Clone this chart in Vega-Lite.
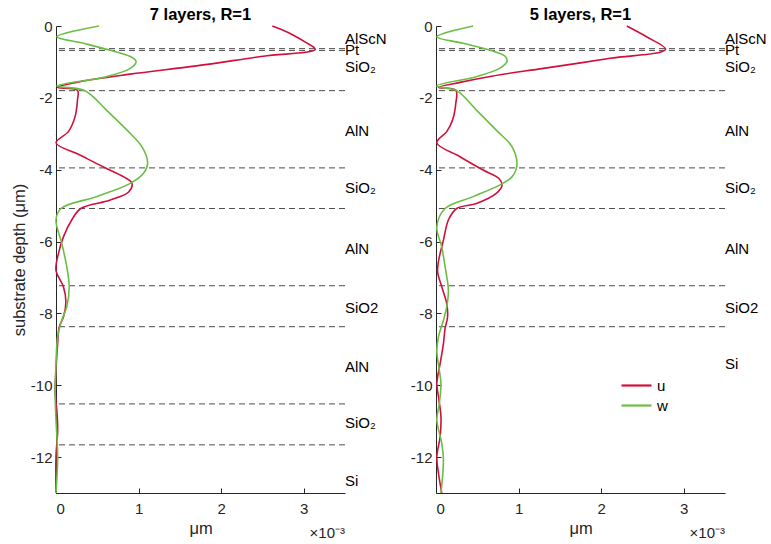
{
  "$schema": "https://vega.github.io/schema/vega-lite/v6.json",
  "padding": {"left": 11, "top": 6, "right": 0, "bottom": 0},
  "bounds": "flush",
  "spacing": 91,
  "datasets": {
    "curves": [
      {"panel": "7", "s": "u", "depth": 0, "disp": 2.62},
      {"panel": "7", "s": "u", "depth": -0.1, "disp": 2.73},
      {"panel": "7", "s": "u", "depth": -0.25, "disp": 2.87},
      {"panel": "7", "s": "u", "depth": -0.45, "disp": 3.02},
      {"panel": "7", "s": "u", "depth": -0.65, "disp": 3.14},
      {"panel": "7", "s": "u", "depth": -0.84, "disp": 2.51},
      {"panel": "7", "s": "u", "depth": -1.11, "disp": 1.70},
      {"panel": "7", "s": "u", "depth": -1.34, "disp": 0.90},
      {"panel": "7", "s": "u", "depth": -1.55, "disp": 0.29},
      {"panel": "7", "s": "u", "depth": -1.71, "disp": 0.02},
      {"panel": "7", "s": "u", "depth": -1.79, "disp": 0.26},
      {"panel": "7", "s": "u", "depth": -2.06, "disp": 0.26},
      {"panel": "7", "s": "u", "depth": -2.53, "disp": 0.23},
      {"panel": "7", "s": "u", "depth": -2.94, "disp": 0.15},
      {"panel": "7", "s": "u", "depth": -3.25, "disp": 0.0},
      {"panel": "7", "s": "u", "depth": -3.59, "disp": 0.29},
      {"panel": "7", "s": "u", "depth": -3.92, "disp": 0.57},
      {"panel": "7", "s": "u", "depth": -4.2, "disp": 0.82},
      {"panel": "7", "s": "u", "depth": -4.38, "disp": 0.92},
      {"panel": "7", "s": "u", "depth": -4.62, "disp": 0.88},
      {"panel": "7", "s": "u", "depth": -4.85, "disp": 0.65},
      {"panel": "7", "s": "u", "depth": -5.08, "disp": 0.30},
      {"panel": "7", "s": "u", "depth": -5.4, "disp": 0.19},
      {"panel": "7", "s": "u", "depth": -5.87, "disp": 0.09},
      {"panel": "7", "s": "u", "depth": -6.33, "disp": 0.03},
      {"panel": "7", "s": "u", "depth": -6.8, "disp": 0.0},
      {"panel": "7", "s": "u", "depth": -7.26, "disp": 0.09},
      {"panel": "7", "s": "u", "depth": -7.68, "disp": 0.12},
      {"panel": "7", "s": "u", "depth": -8.1, "disp": 0.09},
      {"panel": "7", "s": "u", "depth": -8.37, "disp": 0.04},
      {"panel": "7", "s": "u", "depth": -8.84, "disp": 0.02},
      {"panel": "7", "s": "u", "depth": -9.58, "disp": 0.0},
      {"panel": "7", "s": "u", "depth": -10.22, "disp": -0.01},
      {"panel": "7", "s": "u", "depth": -10.69, "disp": 0.01},
      {"panel": "7", "s": "u", "depth": -11.25, "disp": 0.02},
      {"panel": "7", "s": "u", "depth": -11.99, "disp": 0.0},
      {"panel": "7", "s": "u", "depth": -13, "disp": 0.0},
      {"panel": "7", "s": "w", "depth": 0, "disp": 0.52},
      {"panel": "7", "s": "w", "depth": -0.3, "disp": 0.01},
      {"panel": "7", "s": "w", "depth": -0.48, "disp": 0.33},
      {"panel": "7", "s": "w", "depth": -0.67, "disp": 0.65},
      {"panel": "7", "s": "w", "depth": -0.85, "disp": 0.90},
      {"panel": "7", "s": "w", "depth": -0.99, "disp": 0.97},
      {"panel": "7", "s": "w", "depth": -1.18, "disp": 0.90},
      {"panel": "7", "s": "w", "depth": -1.41, "disp": 0.61},
      {"panel": "7", "s": "w", "depth": -1.67, "disp": 0.01},
      {"panel": "7", "s": "w", "depth": -1.8, "disp": 0.35},
      {"panel": "7", "s": "w", "depth": -2.34, "disp": 0.61},
      {"panel": "7", "s": "w", "depth": -2.9, "disp": 0.86},
      {"panel": "7", "s": "w", "depth": -3.36, "disp": 1.04},
      {"panel": "7", "s": "w", "depth": -3.81, "disp": 1.11},
      {"panel": "7", "s": "w", "depth": -4.1, "disp": 1.06},
      {"panel": "7", "s": "w", "depth": -4.38, "disp": 0.90},
      {"panel": "7", "s": "w", "depth": -4.75, "disp": 0.49},
      {"panel": "7", "s": "w", "depth": -5.08, "disp": 0.06},
      {"panel": "7", "s": "w", "depth": -5.4, "disp": 0.0},
      {"panel": "7", "s": "w", "depth": -6.05, "disp": 0.07},
      {"panel": "7", "s": "w", "depth": -6.7, "disp": 0.13},
      {"panel": "7", "s": "w", "depth": -7.26, "disp": 0.16},
      {"panel": "7", "s": "w", "depth": -7.82, "disp": 0.13},
      {"panel": "7", "s": "w", "depth": -8.19, "disp": 0.07},
      {"panel": "7", "s": "w", "depth": -8.65, "disp": 0.02},
      {"panel": "7", "s": "w", "depth": -9.4, "disp": 0.0},
      {"panel": "7", "s": "w", "depth": -10.32, "disp": -0.01},
      {"panel": "7", "s": "w", "depth": -10.97, "disp": 0.0},
      {"panel": "7", "s": "w", "depth": -11.99, "disp": 0.02},
      {"panel": "7", "s": "w", "depth": -13, "disp": 0.0},
      {"panel": "5", "s": "u", "depth": 0, "disp": 2.31},
      {"panel": "5", "s": "u", "depth": -0.3, "disp": 2.55},
      {"panel": "5", "s": "u", "depth": -0.65, "disp": 2.78},
      {"panel": "5", "s": "u", "depth": -0.9, "disp": 2.11},
      {"panel": "5", "s": "u", "depth": -1.18, "disp": 1.30},
      {"panel": "5", "s": "u", "depth": -1.39, "disp": 0.69},
      {"panel": "5", "s": "u", "depth": -1.57, "disp": 0.29},
      {"panel": "5", "s": "u", "depth": -1.71, "disp": 0.03},
      {"panel": "5", "s": "u", "depth": -1.79, "disp": 0.24},
      {"panel": "5", "s": "u", "depth": -2.15, "disp": 0.24},
      {"panel": "5", "s": "u", "depth": -2.62, "disp": 0.20},
      {"panel": "5", "s": "u", "depth": -2.94, "disp": 0.13},
      {"panel": "5", "s": "u", "depth": -3.25, "disp": 0.01},
      {"panel": "5", "s": "u", "depth": -3.64, "disp": 0.29},
      {"panel": "5", "s": "u", "depth": -4.01, "disp": 0.57},
      {"panel": "5", "s": "u", "depth": -4.24, "disp": 0.76},
      {"panel": "5", "s": "u", "depth": -4.43, "disp": 0.80},
      {"panel": "5", "s": "u", "depth": -4.66, "disp": 0.73},
      {"panel": "5", "s": "u", "depth": -4.94, "disp": 0.49},
      {"panel": "5", "s": "u", "depth": -5.08, "disp": 0.25},
      {"panel": "5", "s": "u", "depth": -5.4, "disp": 0.15},
      {"panel": "5", "s": "u", "depth": -5.96, "disp": 0.09},
      {"panel": "5", "s": "u", "depth": -6.55, "disp": 0.03},
      {"panel": "5", "s": "u", "depth": -6.85, "disp": 0.02},
      {"panel": "5", "s": "u", "depth": -7.26, "disp": 0.07},
      {"panel": "5", "s": "u", "depth": -7.73, "disp": 0.13},
      {"panel": "5", "s": "u", "depth": -8.1, "disp": 0.14},
      {"panel": "5", "s": "u", "depth": -8.42, "disp": 0.11},
      {"panel": "5", "s": "u", "depth": -8.84, "disp": 0.09},
      {"panel": "5", "s": "u", "depth": -9.4, "disp": 0.05},
      {"panel": "5", "s": "u", "depth": -9.95, "disp": 0.01},
      {"panel": "5", "s": "u", "depth": -10.32, "disp": 0.03},
      {"panel": "5", "s": "u", "depth": -10.88, "disp": 0.06},
      {"panel": "5", "s": "u", "depth": -11.43, "disp": 0.05},
      {"panel": "5", "s": "u", "depth": -11.99, "disp": 0.01},
      {"panel": "5", "s": "u", "depth": -12.45, "disp": 0.03},
      {"panel": "5", "s": "u", "depth": -13, "disp": 0.07},
      {"panel": "5", "s": "w", "depth": 0, "disp": 0.45},
      {"panel": "5", "s": "w", "depth": -0.3, "disp": 0.01},
      {"panel": "5", "s": "w", "depth": -0.48, "disp": 0.33},
      {"panel": "5", "s": "w", "depth": -0.67, "disp": 0.65},
      {"panel": "5", "s": "w", "depth": -0.85, "disp": 0.84},
      {"panel": "5", "s": "w", "depth": -0.99, "disp": 0.86},
      {"panel": "5", "s": "w", "depth": -1.18, "disp": 0.77},
      {"panel": "5", "s": "w", "depth": -1.41, "disp": 0.49},
      {"panel": "5", "s": "w", "depth": -1.67, "disp": 0.01},
      {"panel": "5", "s": "w", "depth": -1.8, "disp": 0.25},
      {"panel": "5", "s": "w", "depth": -2.34, "disp": 0.49},
      {"panel": "5", "s": "w", "depth": -2.9, "disp": 0.73},
      {"panel": "5", "s": "w", "depth": -3.36, "disp": 0.92},
      {"panel": "5", "s": "w", "depth": -3.87, "disp": 0.98},
      {"panel": "5", "s": "w", "depth": -4.2, "disp": 0.92},
      {"panel": "5", "s": "w", "depth": -4.43, "disp": 0.77},
      {"panel": "5", "s": "w", "depth": -4.75, "disp": 0.45},
      {"panel": "5", "s": "w", "depth": -5.08, "disp": 0.11},
      {"panel": "5", "s": "w", "depth": -5.59, "disp": 0.01},
      {"panel": "5", "s": "w", "depth": -6.15, "disp": 0.07},
      {"panel": "5", "s": "w", "depth": -6.7, "disp": 0.11},
      {"panel": "5", "s": "w", "depth": -7.35, "disp": 0.15},
      {"panel": "5", "s": "w", "depth": -7.82, "disp": 0.13},
      {"panel": "5", "s": "w", "depth": -8.19, "disp": 0.09},
      {"panel": "5", "s": "w", "depth": -8.65, "disp": 0.03},
      {"panel": "5", "s": "w", "depth": -9.03, "disp": 0.01},
      {"panel": "5", "s": "w", "depth": -9.58, "disp": 0.04},
      {"panel": "5", "s": "w", "depth": -9.95, "disp": 0.06},
      {"panel": "5", "s": "w", "depth": -10.51, "disp": 0.04},
      {"panel": "5", "s": "w", "depth": -10.97, "disp": 0.01},
      {"panel": "5", "s": "w", "depth": -11.62, "disp": 0.07},
      {"panel": "5", "s": "w", "depth": -12.08, "disp": 0.09},
      {"panel": "5", "s": "w", "depth": -13, "disp": 0.06}
    ],
    "bounds": [
      {"panel": "7", "depth": -0.63}, {"panel": "7", "depth": -0.68}, {"panel": "7", "depth": -1.8},
      {"panel": "7", "depth": -3.95}, {"panel": "7", "depth": -5.08}, {"panel": "7", "depth": -7.23},
      {"panel": "7", "depth": -8.37}, {"panel": "7", "depth": -10.52}, {"panel": "7", "depth": -11.66},
      {"panel": "5", "depth": -0.63}, {"panel": "5", "depth": -0.68}, {"panel": "5", "depth": -1.8},
      {"panel": "5", "depth": -3.95}, {"panel": "5", "depth": -5.08}, {"panel": "5", "depth": -7.23},
      {"panel": "5", "depth": -8.37}
    ],
    "labels": [
      {"panel": "7", "label": "AlScN", "depth": -0.36},
      {"panel": "7", "label": "Pt", "depth": -0.68},
      {"panel": "7", "label": "SiO₂", "depth": -1.15},
      {"panel": "7", "label": "AlN", "depth": -2.92},
      {"panel": "7", "label": "SiO₂", "depth": -4.5},
      {"panel": "7", "label": "AlN", "depth": -6.21},
      {"panel": "7", "label": "SiO2", "depth": -7.86},
      {"panel": "7", "label": "AlN", "depth": -9.49},
      {"panel": "7", "label": "SiO₂", "depth": -11.04},
      {"panel": "7", "label": "Si", "depth": -12.67},
      {"panel": "5", "label": "AlScN", "depth": -0.36},
      {"panel": "5", "label": "Pt", "depth": -0.68},
      {"panel": "5", "label": "SiO₂", "depth": -1.15},
      {"panel": "5", "label": "AlN", "depth": -2.92},
      {"panel": "5", "label": "SiO₂", "depth": -4.5},
      {"panel": "5", "label": "AlN", "depth": -6.21},
      {"panel": "5", "label": "SiO2", "depth": -7.86},
      {"panel": "5", "label": "Si", "depth": -9.42}
    ],
    "exponent": [
      {"label": "×10⁻³", "disp": 3.5, "depth": -14.1}
    ]
  },
  "resolve": {"legend": {"color": "independent"}},
  "hconcat": [
    {
      "title": "7 layers, R=1",
      "width": 289,
      "height": 467,
      "layer": [
        {
          "data": {"name": "bounds"},
          "transform": [{"filter": "datum.panel === '7'"}],
          "mark": {"type": "rule", "color": "#4d4d4d", "strokeDash": [6, 4], "strokeWidth": 1},
          "encoding": {
            "y": {"field": "depth", "type": "quantitative", "scale": {"domain": [-13, 0], "nice": false, "zero": false},
              "axis": {"title": "substrate depth (μm)", "values": [-12, -10, -8, -6, -4, -2, 0], "labelExpr": "'' + datum.value"}}
          }
        },
        {
          "data": {"name": "curves"},
          "transform": [{"filter": "datum.panel === '7'"}],
          "mark": {"type": "line", "strokeWidth": 1.6, "interpolate": "catmull-rom"},
          "encoding": {
            "x": {"field": "disp", "type": "quantitative", "scale": {"domain": [0, 3.5], "nice": false, "zero": false},
              "axis": {"title": "μm", "values": [0, 1, 2, 3], "labelExpr": "'' + datum.value"}},
            "y": {"field": "depth", "type": "quantitative"},
            "color": {"field": "s", "type": "nominal", "scale": {"domain": ["u", "w"], "range": ["#d0103a", "#6abd45"]}, "legend": null},
            "order": {"field": "depth", "sort": "descending"}
          }
        },
        {
          "data": {"name": "labels"},
          "transform": [{"filter": "datum.panel === '7'"}],
          "mark": {"type": "text", "align": "left", "baseline": "middle", "fontSize": 15, "color": "#000"},
          "encoding": {
            "x": {"datum": 3.5, "type": "quantitative"},
            "y": {"field": "depth", "type": "quantitative"},
            "text": {"field": "label"}
          }
        },
        {
          "data": {"name": "exponent"},
          "mark": {"type": "text", "align": "right", "baseline": "middle", "fontSize": 15, "color": "#262626"},
          "encoding": {
            "x": {"field": "disp", "type": "quantitative"},
            "y": {"field": "depth", "type": "quantitative"},
            "text": {"field": "label"}
          }
        }
      ]
    },
    {
      "title": "5 layers, R=1",
      "width": 289,
      "height": 467,
      "layer": [
        {
          "data": {"name": "bounds"},
          "transform": [{"filter": "datum.panel === '5'"}],
          "mark": {"type": "rule", "color": "#4d4d4d", "strokeDash": [6, 4], "strokeWidth": 1},
          "encoding": {
            "y": {"field": "depth", "type": "quantitative", "scale": {"domain": [-13, 0], "nice": false, "zero": false},
              "axis": {"title": null, "values": [-12, -10, -8, -6, -4, -2, 0], "labelExpr": "'' + datum.value"}}
          }
        },
        {
          "data": {"name": "curves"},
          "transform": [{"filter": "datum.panel === '5'"}],
          "mark": {"type": "line", "strokeWidth": 1.6, "interpolate": "catmull-rom"},
          "encoding": {
            "x": {"field": "disp", "type": "quantitative", "scale": {"domain": [0, 3.5], "nice": false, "zero": false},
              "axis": {"title": "μm", "values": [0, 1, 2, 3], "labelExpr": "'' + datum.value"}},
            "y": {"field": "depth", "type": "quantitative"},
            "color": {"field": "s", "type": "nominal", "scale": {"domain": ["u", "w"], "range": ["#d0103a", "#6abd45"]},
              "legend": {"title": null, "orient": "none", "legendX": 193, "legendY": 352, "symbolType": "M-3,0H3", "symbolSize": 100, "symbolStrokeWidth": 2.2, "labelFontSize": 15, "labelColor": "#000", "padding": 0, "rowPadding": 4, "labelOffset": 13}},
            "order": {"field": "depth", "sort": "descending"}
          }
        },
        {
          "data": {"name": "labels"},
          "transform": [{"filter": "datum.panel === '5'"}],
          "mark": {"type": "text", "align": "left", "baseline": "middle", "fontSize": 15, "color": "#000"},
          "encoding": {
            "x": {"datum": 3.5, "type": "quantitative"},
            "y": {"field": "depth", "type": "quantitative"},
            "text": {"field": "label"}
          }
        },
        {
          "data": {"name": "exponent"},
          "mark": {"type": "text", "align": "right", "baseline": "middle", "fontSize": 15, "color": "#262626"},
          "encoding": {
            "x": {"field": "disp", "type": "quantitative"},
            "y": {"field": "depth", "type": "quantitative"},
            "text": {"field": "label"}
          }
        }
      ]
    }
  ],
  "config": {
    "font": "Liberation Sans",
    "view": {"stroke": null},
    "title": {"fontSize": 16.5, "fontWeight": "bold", "color": "#000", "offset": -4},
    "axis": {
      "grid": false,
      "domainColor": "#262626",
      "tickColor": "#262626",
      "labelColor": "#262626",
      "titleColor": "#262626",
      "labelFontSize": 15,
      "titleFontSize": 16.5,
      "titleFontWeight": "normal",
      "tickSize": -5,
      "labelPadding": 9
    },
    "axisY": {"titlePadding": 3},
    "axisX": {"titlePadding": 4, "labelPadding": 13}
  }
}
